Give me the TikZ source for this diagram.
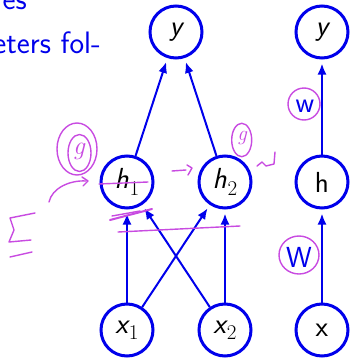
\documentclass[tikz,border=0pt]{standalone}
\usepackage{fontspec}
\usetikzlibrary{arrows.meta}
\definecolor{bl}{RGB}{0,0,235}
\definecolor{pen}{RGB}{200,75,225}
\newcommand{\sub}[2]{{\sffamily\itshape #1}\kern0.03em\raisebox{-0.22em}{\rmfamily\upshape\fontsize{21}{21}\selectfont #2}}
\begin{document}
\begin{tikzpicture}[x=1pt,y=-1pt,
  big/.style={font=\fontsize{29}{34}\selectfont},
  neuron/.style={big,circle,draw=bl,line width=3pt,minimum size=52pt,inner sep=0pt},
  conn/.style={draw=bl,line width=2pt,-{Latex[length=11pt,width=9pt]},shorten >=4pt},
  ink/.style={draw=pen,line width=1.4pt,line cap=round,line join=round},
  slide/.style={text=bl,font=\fontsize{29}{34}\selectfont\sffamily,inner sep=0pt},
  slidetext/.style={text=bl,font=\fontsize{31}{36}\selectfont\sffamily,inner sep=0pt}]
\useasboundingbox (0,0) rectangle (353,359);
% slide text
\node[slidetext,anchor=base east] (t1) at (27,9) {es};
\node[slidetext,anchor=base east] (t2) at (101,53) {eters fol-};
% neurons
\node[neuron] (y) at (176,32) {\sffamily\itshape y};
\node[neuron] (h1) at (127,182) {\sub{h}{1}};
\node[neuron] (h2) at (225,182) {\sub{h}{2}};
\node[neuron] (x1) at (127,330) {\sub{x}{1}};
\node[neuron] (x2) at (225,330) {\sub{x}{2}};
\node[neuron] (yr) at (322,32) {\sffamily\itshape y};
\node[neuron] (hr) at (322,182) {\sffamily h};
\node[neuron] (xr) at (322,330) {\sffamily x};
% connections
\draw[conn] (x1) -- (h1);
\draw[conn] (x1) -- (h2);
\draw[conn] (x2) -- (h1);
\draw[conn] (x2) -- (h2);
\draw[conn] (h1) -- (y);
\draw[conn] (h2) -- (y);
\draw[conn] (xr) -- (hr);
\draw[conn] (hr) -- (yr);
% weight labels
\node[slide,anchor=center] (w) at (305,106) {w};
\node[slide,anchor=center] (W) at (299,257) {W};
% handwritten annotations
\draw[ink] (299,255) ellipse [x radius=20, y radius=19];
\draw[ink] (304,104) ellipse [x radius=16, y radius=16];
\draw[ink] (77,149) ellipse [x radius=20, y radius=26];
\draw[ink] (79.5,153) ellipse [x radius=11.5, y radius=18.5];
\node[text=pen,font=\fontsize{26}{28}\selectfont\itshape,inner sep=0pt] (g1) at (79,151) {g};
\draw[ink] (241.7,140) ellipse [x radius=10, y radius=16.7];
\node[text=pen,font=\fontsize{21}{22}\selectfont\itshape,inner sep=0pt] (g2) at (242,138) {g};
\draw[ink] (49,202) .. controls (52,188) and (70,180) .. (86,181);
\draw[ink] (82,177) -- (88,181) -- (83,186);
\draw[ink] (35,213) -- (10,218) .. controls (12,224) .. (14,230) -- (9,242) -- (31,240);
\draw[ink] (10,257) -- (32,252);
\draw[ink] (99,184) -- (148,182);
\draw[ink,line width=2pt] (110,220) -- (152,209);
\draw[ink] (112,216) -- (140,211);
\draw[ink] (118,232) -- (240,226);
\draw[ink] (172,171) -- (186,170);
\draw[ink] (187,165) -- (192,168) -- (188,175);
\draw[ink] (257,166) -- (262,162) -- (266,166) -- (274,164) -- (275,152);
\end{tikzpicture}
\end{document}
